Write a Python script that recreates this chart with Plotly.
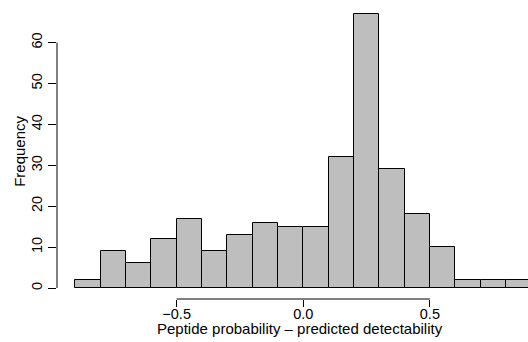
import plotly.graph_objects as go

# Histogram data (bin width 0.1)
bin_lefts = [-0.9, -0.8, -0.7, -0.6, -0.5, -0.4, -0.3, -0.2, -0.1,
             0.0, 0.1, 0.2, 0.3, 0.4, 0.5, 0.6, 0.7, 0.8]
counts = [2, 9, 6, 12, 17, 9, 13, 16, 15, 15, 32, 67, 29, 18, 10, 2, 2, 2]
bin_width = 0.1
x_ticks = [-0.5, 0.0, 0.5]
y_ticks = [0, 10, 20, 30, 40, 50, 60]

centers = [b + bin_width / 2 for b in bin_lefts]

FONT = "Liberation Sans, Arial, sans-serif"
FS = 15
FS_TICK = 14.5

fig = go.Figure(go.Bar(
    x=centers, y=counts, width=[bin_width] * len(counts),
    marker=dict(color="#BEBEBE", line=dict(color="black", width=1)),
    hoverinfo="skip",
))

fig.update_layout(
    width=528, height=342,
    margin=dict(l=57, r=0, t=3, b=43, autoexpand=False),
    paper_bgcolor="white", plot_bgcolor="white",
    showlegend=False,
    font=dict(family=FONT, size=FS, color="black"),
    bargap=0,
    xaxis=dict(range=[-0.9725, 0.8875], showgrid=False, zeroline=False,
               showline=False, tickvals=x_ticks, ticktext=["−0.5", "0.0", "0.5"],
               ticks="outside", ticklen=7, tickwidth=1, tickcolor="black",
               ticklabelstandoff=-5,
               automargin=False, tickfont=dict(family=FONT, size=FS_TICK)),
    yaxis=dict(range=[-2.68, 69.68], showgrid=False, zeroline=False,
               showline=False, tickvals=y_ticks, ticks="outside", ticklen=8,
               tickwidth=1, tickcolor="black", tickangle=-90, automargin=False,
               tickfont=dict(family=FONT, size=FS_TICK)),
    shapes=[
        dict(type="line", xref="x", yref="paper", x0=x_ticks[0], x1=x_ticks[-1],
             y0=0, y1=0, line=dict(color="black", width=1)),
        dict(type="line", xref="paper", yref="y", x0=0, x1=0,
             y0=y_ticks[0], y1=y_ticks[-1], line=dict(color="black", width=1)),
    ],
    annotations=[
        dict(text="Peptide probability – predicted detectability", xref="x", yref="paper",
             x=-0.012, y=-0.1, xanchor="center", yanchor="middle", showarrow=False,
             font=dict(family=FONT, size=FS)),
        dict(text="Frequency", xref="paper", yref="paper", x=-0.081, y=0.5,
             xanchor="center", yanchor="middle", textangle=-90, showarrow=False,
             font=dict(family=FONT, size=FS)),
    ],
)

fig.write_html("out.html", config={"displayModeBar": False},
               post_script="document.body.style.margin='0';document.body.style.overflow='hidden';")
